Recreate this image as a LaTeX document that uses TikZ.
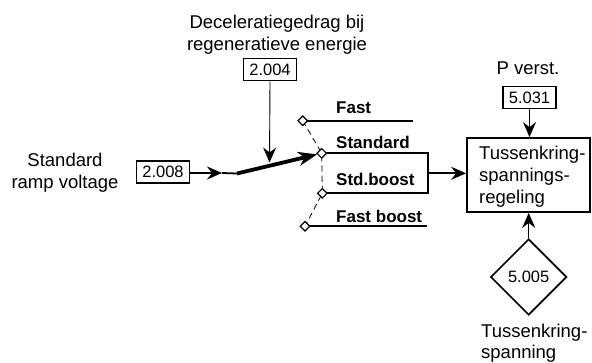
\documentclass[tikz,border=0pt]{standalone}
\usepackage{fontspec}
\setmainfont{Liberation Sans}
\usetikzlibrary{shapes.geometric,arrows.meta}
\begin{document}
\begin{tikzpicture}[x=1pt,y=-1pt,
  lbl/.style={font=\fontsize{18.5}{22}\selectfont, inner sep=0pt},
  line/.style={lbl, anchor=base west},
  num/.style={draw, line width=1.8pt, font=\fontsize{16.5}{20}\selectfont, minimum width=53pt, minimum height=22pt, inner sep=0pt},
  opt/.style={font=\fontsize{17}{20}\selectfont\bfseries, inner sep=0pt, anchor=base west},
  sw/.style={diamond, draw, fill=white, line width=1.2pt, minimum size=10pt, inner sep=0pt},
  wire/.style={line width=1.8pt},
  fine/.style={line width=0.9pt},
  arr/.style={-{Stealth[length=15pt,width=13pt,inset=5pt]}},
  bigarr/.style={-{Stealth[length=19pt,width=14pt,inset=6pt]}},
  dsh/.style={line width=0.8pt, dash pattern=on 6pt off 4pt},
]
\useasboundingbox (0,0) rectangle (592,362);

% texts
\node[lbl, align=center] (title) at (277,35.2) {Deceleratiegedrag bij\\regeneratieve energie};
\node[lbl, align=center] (ramp) at (65,173.2) {Standard\\ramp voltage};
\node[lbl, anchor=base] (pv) at (528,74) {P verst.};

% number boxes
\node[num] (n2004) at (270,69.5) {2.004};
\node[num] (n2008) at (163,172) {2.008};
\node[num] (n5031) at (529.5,97.5) {5.031};

% regulator box
\node[draw, line width=1.8pt, minimum width=123pt, minimum height=74pt, inner sep=0pt] (reg) at (528.5,175) {};
\node[line] (r1) at (479,159) {Tussenkring-};
\node[line] (r2) at (479,181) {spannings-};
\node[line] (r3) at (479,203) {regeling};

% diamond 5.005
\node[diamond, draw, line width=1.6pt, minimum size=76pt, inner sep=0pt, font=\fontsize{16.5}{20}\selectfont] (d5005) at (528.7,277) {5.005};
\node[line] (b1) at (481,337) {Tussenkring-};
\node[line] (b2) at (481,358) {spanning};

% switch positions
\coordinate (fa_e) at (412.5,120.7);
\coordinate (st_e) at (428,153.3);
\coordinate (sb_e) at (428,193.3);
\coordinate (fb_e) at (427,226.3);
\coordinate (sr) at (428,173.3);
\coordinate (sw0) at (237,173.5);
\coordinate (m1) at (222,173);
\coordinate (m2) at (269.5,162.5);

\draw[wire] (302.7,120.7) coordinate (fa0) -- (fa_e);
\draw[wire] (321.7,153.3) coordinate (st0) -- (st_e) -- (sb_e) -- (322.3,193.3) coordinate (sb0);
\draw[wire] (305,226.3) coordinate (fb0) -- (fb_e);

\draw[dsh] (fa0) -- (st0) -- (sb0) -- (fb0);

\node[sw] (fa) at (fa0) {};
\node[sw] (st) at (st0) {};
\node[sw] (sb) at (sb0) {};
\node[sw] (fb) at (fb0) {};

\node[opt] (lfa) at (336,113.5) {Fast};
\node[opt] (lst) at (336,148.3) {Standard};
\node[opt] (lsb) at (336,185.5) {Std.boost};
\node[opt] (lfb) at (336,222) {Fast boost};

% connectors
\draw[wire, arr] (n2008.east |- m1) -- (m1);
\draw[wire] (m1) -- (sw0);
\draw[line width=3.8pt, bigarr] (sw0) -- (st);
\draw[fine, arr] (n2004.south) -- (m2);
\draw[wire, arr] (sr) -- (sr -| reg.west);
\draw[line width=1.4pt, arr] (n5031.south) -- (n5031.south |- reg.north);
\draw[line width=1.3pt, arr] (d5005.north) -- (d5005.north |- reg.south);
\end{tikzpicture}
\end{document}
